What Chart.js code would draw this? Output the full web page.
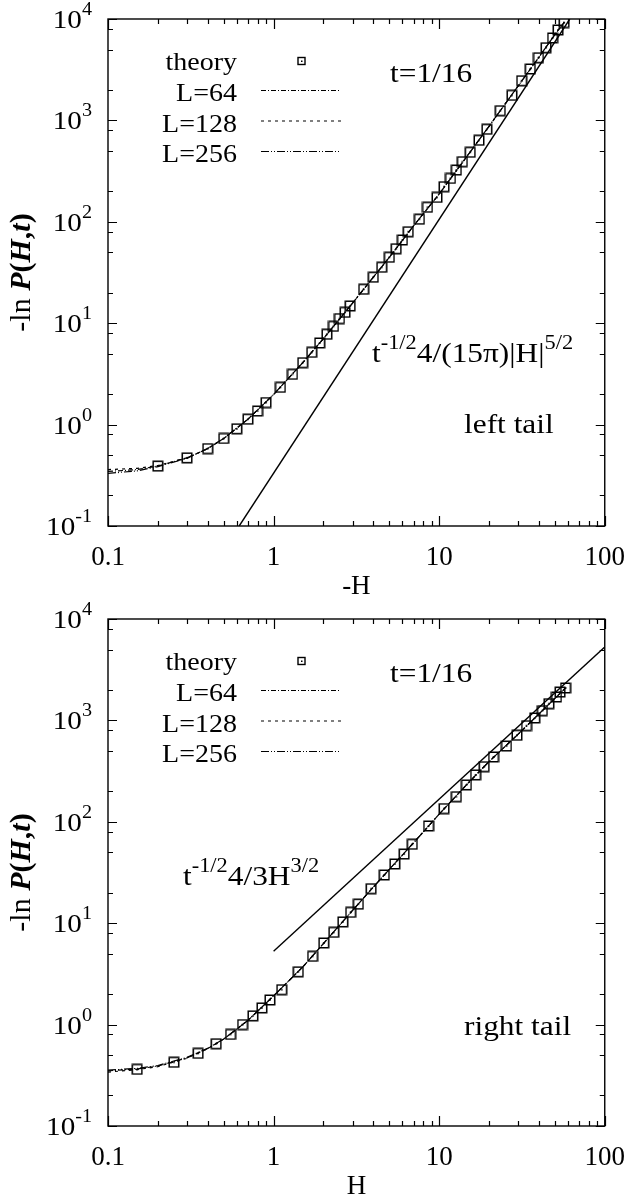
<!DOCTYPE html>
<html>
<head>
<meta charset="utf-8">
<script src="https://cdn.jsdelivr.net/npm/chart.js@4.4.1/dist/chart.umd.min.js"></script>
<style>
  body { margin: 0; background: #fff; }
  canvas { display: block; }
</style>
</head>
<body>
<canvas id="left" width="643" height="600"></canvas>
<canvas id="right" width="643" height="600"></canvas>
<script>
// axis ticks
const xTicks = [0.1, 1, 10, 100];
const xMinor = [2, 3, 4, 5, 6, 7, 8, 9];
const yExponents = [-1, 0, 1, 2, 3, 4];
const yMinor = [2, 5, 8];

// left tail (top panel), t = 1/16
const leftTheoryH = [0.2, 0.3, 0.4, 0.5, 0.6, 0.7, 0.8, 0.9, 1.1, 1.3, 1.5, 1.7, 1.9, 2.1, 2.3, 2.5, 2.7, 2.9,
  3.5, 4.0, 4.5, 5.0, 5.5, 6.0, 6.5, 7.6, 8.5, 9.7, 10.7, 11.7, 12.7, 13.8, 15.4, 17.4, 19.4, 23.4, 27.5, 31.5,
  35.5, 39.8, 44.2, 48.4, 52.2, 56.8];
const leftTheoryP = [0.39, 0.47, 0.58, 0.73, 0.91, 1.13, 1.36, 1.65, 2.33, 3.13, 4.08, 5.16, 6.38, 7.77, 9.31, 11.1, 12.8, 14.8,
  21.6, 28.4, 35.6, 44.7, 54.3, 66.2, 79.8, 106, 139, 174, 222, 268, 324, 392, 485, 637, 817, 1247, 1767, 2464,
  3214, 4150, 5210, 6500, 7800, 9230];
const leftSimH = [0.1, 0.15, 0.2, 0.3, 0.4, 0.5, 0.7, 1, 1.5, 2, 3, 5, 7, 10, 15, 20, 30, 40, 50, 57];
const leftL64 = [0.345, 0.36, 0.39, 0.47, 0.58, 0.73, 1.13, 1.98, 4.08, 7.05, 15.8, 44.7, 91, 188, 461, 875, 2187, 4190, 7030, 9300];
const leftL128 = [0.36, 0.37, 0.395, 0.47, 0.58, 0.73, 1.13, 1.98, 4.08, 7.05, 15.8, 44.7, 91, 188, 461, 875, 2187, 4190, 7030, 9300];
const leftL256 = [0.33, 0.35, 0.385, 0.465, 0.58, 0.73, 1.13, 1.98, 4.08, 7.05, 15.8, 44.7, 91, 188, 461, 875, 2187, 4190, 7030, 9300];
const leftAsymH = [0.62, 61.5];
const leftAsymP = [0.1, 10000];

// right tail (bottom panel), t = 1/16
const rightTheoryH = [0.15, 0.25, 0.35, 0.45, 0.55, 0.65, 0.75, 0.85, 0.95, 1.12, 1.41, 1.72, 2.01, 2.31, 2.62, 2.92,
  3.25, 3.88, 4.66, 5.4, 6.14, 6.88, 8.63, 10.7, 12.7, 14.6, 16.6, 18.7, 21.3, 25.5, 29.5, 33.7, 37.8, 42, 46,
  51.1, 53.7, 58];
const rightTheoryP = [0.362, 0.425, 0.521, 0.648, 0.80, 1.0, 1.22, 1.46, 1.75, 2.21, 3.32, 4.71, 6.38, 8.13, 10.3, 12.8,
  15.4, 21.9, 29.9, 38.4, 48.1, 60, 91, 135, 177, 231, 290, 350, 436, 559, 713, 887, 1057, 1247, 1462,
  1702, 1905, 2088];
const rightSimH = [0.1, 0.15, 0.2, 0.3, 0.4, 0.5, 0.7, 1, 1.5, 2, 3, 5, 7, 10, 15, 20, 30, 40, 50, 58];
const rightL64 = [0.35, 0.365, 0.39, 0.47, 0.58, 0.72, 1.1, 1.92, 3.7, 6.3, 13.4, 34, 62, 119, 242, 392, 732, 1155, 1650, 2090];
const rightL128 = [0.34, 0.36, 0.385, 0.465, 0.58, 0.72, 1.1, 1.92, 3.7, 6.3, 13.4, 34, 62, 119, 242, 392, 732, 1155, 1650, 2090];
const rightL256 = [0.355, 0.37, 0.395, 0.475, 0.585, 0.72, 1.1, 1.92, 3.7, 6.3, 13.4, 34, 62, 119, 242, 392, 732, 1155, 1650, 2090];
const rightAsymH = [1, 100];
const rightAsymP = [5.3, 5300];

const FONT = 'Liberation Serif';
const STRETCH = 1.12; // the figure's lettering is a little wider than plain Times

function boxMarker() {
	const c = document.createElement('canvas');
	c.width = c.height = 12;
	const g = c.getContext('2d');
	g.strokeStyle = '#000';
	g.lineWidth = 1.5;
	g.strokeRect(1.25, 1.25, 9.5, 9.5);
	g.fillStyle = '#000';
	g.fillRect(5.2, 5.2, 1.6, 1.6);
	return c;
}

function pts(xs, ys) {
	return xs.map((x, i) => ({ x, y: ys[i] }));
}

function lineSet(label, xs, ys, dash, width) {
	return { label, data: pts(xs, ys), showLine: true, borderColor: '#000', borderWidth: width || 1.2,
		borderDash: dash, pointRadius: 0, fill: false, tension: 0 };
}

function setFont(ctx, size, italic, bold) {
	ctx.font = (italic ? 'italic ' : '') + (bold ? 'bold ' : '') + size + 'px "' + FONT + '"';
}

// text runs with superscripts; sizes = [base, sup], sx = horizontal stretch
function richWidth(ctx, parts, sizes, sx) {
	let w = 0;
	for (const p of parts) {
		setFont(ctx, p.sup ? sizes[1] : sizes[0], p.it, p.b);
		w += ctx.measureText(p.t).width;
	}
	return w * sx;
}

function drawRich(ctx, parts, x, y, sizes, sx, rise) {
	ctx.save();
	ctx.translate(x, y);
	ctx.scale(sx, 1);
	let cx = 0;
	for (const p of parts) {
		setFont(ctx, p.sup ? sizes[1] : sizes[0], p.it, p.b);
		ctx.fillText(p.t, cx, p.sup ? -rise : 0);
		cx += ctx.measureText(p.t).width;
	}
	ctx.restore();
}

const legendRows = ['L=64', 'L=128', 'L=256'];
const legendDash = [[5, 2, 1, 2], [3, 4], [8, 2, 1, 2, 1, 2]];

const framePlugin = {
	id: 'frame',
	afterDraw(chart, args, opts) {
		const ctx = chart.ctx;
		const { left, right, top, bottom } = chart.chartArea;
		const xs = chart.scales.x, ys = chart.scales.y;
		ctx.save();
		ctx.strokeStyle = '#000';
		ctx.fillStyle = '#000';
		ctx.lineWidth = 1.4;
		ctx.setLineDash([]);
		ctx.strokeRect(left, top, right - left, bottom - top);

		// inward ticks on all four sides
		ctx.lineWidth = 1.2;
		ctx.beginPath();
		for (let d = 0; d < xTicks.length; d++) {
			const v = xTicks[d];
			const px = Math.round(xs.getPixelForValue(v)) + 0.5;
			ctx.moveTo(px, bottom); ctx.lineTo(px, bottom - 10);
			ctx.moveTo(px, top); ctx.lineTo(px, top + 10);
			if (d < xTicks.length - 1) {
				for (const m of xMinor) {
					const mx = Math.round(xs.getPixelForValue(v * m)) + 0.5;
					ctx.moveTo(mx, bottom); ctx.lineTo(mx, bottom - 5);
					ctx.moveTo(mx, top); ctx.lineTo(mx, top + 5);
				}
			}
		}
		for (let d = 0; d < yExponents.length; d++) {
			const v = Math.pow(10, yExponents[d]);
			const py = Math.round(ys.getPixelForValue(v)) + 0.5;
			ctx.moveTo(left, py); ctx.lineTo(left + 9, py);
			ctx.moveTo(right, py); ctx.lineTo(right - 9, py);
			if (d < yExponents.length - 1) {
				for (const m of yMinor) {
					const my = Math.round(ys.getPixelForValue(v * m)) + 0.5;
					ctx.moveTo(left, my); ctx.lineTo(left + 5, my);
					ctx.moveTo(right, my); ctx.lineTo(right - 5, my);
				}
			}
		}
		ctx.stroke();

		// y tick labels 10^n
		ctx.textBaseline = 'alphabetic';
		ctx.textAlign = 'left';
		for (const e of yExponents) {
			const py = ys.getPixelForValue(Math.pow(10, e));
			const parts = [{ t: '10' }, { t: String(e), sup: true }];
			const w = richWidth(ctx, parts, [26, 18], STRETCH);
			drawRich(ctx, parts, left - 16 - w, py + 9, [26, 18], STRETCH, 13);
		}

		// y title
		ctx.save();
		ctx.translate(left - 78, (top + bottom) / 2);
		ctx.rotate(-Math.PI / 2);
		const title = [{ t: '-ln ' }, { t: 'P', it: true, b: true }, { t: '(', b: true }, { t: 'H', it: true, b: true },
			{ t: ',', b: true }, { t: 't', it: true, b: true }, { t: ')', b: true }];
		drawRich(ctx, title, -richWidth(ctx, title, [30, 20], 1) / 2, 0, [30, 20], 1, 0);
		ctx.restore();

		// legend
		const lt = [{ t: 'theory' }];
		drawRich(ctx, lt, 237 - richWidth(ctx, lt, [25, 18], STRETCH), 70, [25, 18], STRETCH, 0);
		ctx.lineWidth = 1.4;
		ctx.strokeRect(298, 57.5, 7, 7);
		ctx.fillRect(301, 60.5, 1.5, 1.5);
		legendRows.forEach((name, i) => {
			const by = 101 + i * 30.5;
			const p = [{ t: name }];
			drawRich(ctx, p, 237 - richWidth(ctx, p, [25, 18], STRETCH), by, [25, 18], STRETCH, 0);
			ctx.lineWidth = 1.2;
			ctx.setLineDash(legendDash[i]);
			ctx.beginPath();
			ctx.moveTo(261, by - 10.5);
			ctx.lineTo(341, by - 10.5);
			ctx.stroke();
			ctx.setLineDash([]);
		});

		// annotations
		for (const n of opts.notes) drawRich(ctx, n.parts, n.x, n.y, [28, 20], STRETCH, 13);
		ctx.restore();
	}
};

function makeChart(id, xTitle, theoryH, theoryP, simH, l64, l128, l256, asymH, asymP, notes) {
	const marker = boxMarker();
	return new Chart(document.getElementById(id), {
		type: 'scatter',
		data: {
			datasets: [
				lineSet('L=64', simH, l64, legendDash[0]),
				lineSet('L=128', simH, l128, legendDash[1]),
				lineSet('L=256', simH, l256, legendDash[2]),
				lineSet('asymptote', asymH, asymP, [], 1.4),
				{ label: 'theory', data: pts(theoryH, theoryP), pointStyle: marker, pointRadius: 6, showLine: false }
			]
		},
		options: {
			responsive: false,
			animation: false,
			devicePixelRatio: 1,
			layout: { padding: { left: 108, right: 31, top: 19, bottom: 0 } },
			plugins: { legend: { display: false }, tooltip: { enabled: false }, frame: { notes } },
			scales: {
				x: {
					type: 'logarithmic', min: 0.1, max: 100,
					afterBuildTicks: s => { s.ticks = xTicks.map(v => ({ value: v })); },
					afterFit: s => { s.height = 74; },
					grid: { display: false, drawTicks: false },
					border: { display: false },
					ticks: { color: '#000', font: { family: FONT, size: 27, lineHeight: 1 }, padding: 18,
						maxRotation: 0, autoSkip: false, callback: v => String(v) },
					title: { display: true, text: xTitle, color: '#000', font: { family: FONT, size: 27, lineHeight: 1 },
						padding: { top: 0, bottom: 0 } }
				},
				y: { type: 'logarithmic', min: 0.1, max: 10000, display: false }
			}
		},
		plugins: [framePlugin]
	});
}

const tPow = { t: '-1/2', sup: true };
makeChart('left', '-H', leftTheoryH, leftTheoryP, leftSimH, leftL64, leftL128, leftL256, leftAsymH, leftAsymP, [
	{ x: 390, y: 82, parts: [{ t: 't=1/16' }] },
	{ x: 372, y: 362, parts: [{ t: 't' }, tPow, { t: '4/(15\u03c0)|H|' }, { t: '5/2', sup: true }] },
	{ x: 464, y: 433, parts: [{ t: 'left tail' }] }
]);
makeChart('right', 'H', rightTheoryH, rightTheoryP, rightSimH, rightL64, rightL128, rightL256, rightAsymH, rightAsymP, [
	{ x: 390, y: 82, parts: [{ t: 't=1/16' }] },
	{ x: 183, y: 285, parts: [{ t: 't' }, tPow, { t: '4/3H' }, { t: '3/2', sup: true }] },
	{ x: 464, y: 435, parts: [{ t: 'right tail' }] }
]);
</script>
</body>
</html>
